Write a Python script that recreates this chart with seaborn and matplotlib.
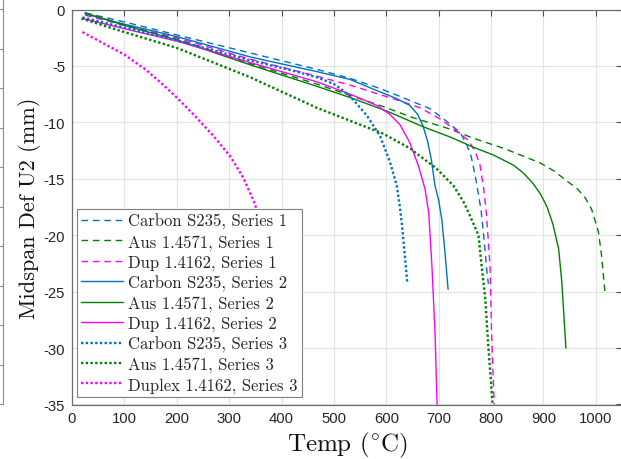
import numpy as np
import pandas as pd
import matplotlib
matplotlib.use("Agg")
import matplotlib.pyplot as plt
from matplotlib.lines import Line2D
import seaborn as sns

# ---------------- data ----------------
carbon1_T = [25, 100, 200, 340, 467, 531, 588, 626, 684, 715, 741, 752, 762, 770, 776, 781, 787, 793, 795]
carbon1_D = [-0.3, -1.1, -2.25, -3.85, -5.3, -6.1, -7.0, -7.7, -8.8, -9.9, -10.9, -11.8, -13.0, -14.8, -16.4, -17.8, -20.5, -23.7, -24.3]

aus1_T = [25, 100, 200, 340, 467, 594, 652, 722, 766, 824, 862, 894, 920, 945, 965, 980, 992, 1005, 1011, 1018]
aus1_D = [-0.3, -1.4, -2.6, -4.8, -6.6, -8.6, -9.6, -10.6, -11.4, -12.3, -13.0, -13.6, -14.3, -15.2, -15.9, -16.7, -17.7, -19.7, -21.8, -25.3]

dup1_T = [25, 100, 200, 340, 467, 531, 626, 664, 703, 735, 757, 770, 779, 786, 791, 798, 801, 806]
dup1_D = [-0.5, -1.4, -2.5, -4.4, -5.9, -6.7, -8.1, -8.7, -9.7, -10.8, -11.6, -12.6, -13.8, -15.9, -18.0, -22.7, -28.6, -35.0]

carbon2_T = [25, 100, 200, 340, 467, 531, 588, 620, 645, 660, 670, 679, 686, 693, 700, 706, 712, 718]
carbon2_D = [-0.4, -1.3, -2.4, -4.2, -5.5, -6.2, -7.3, -7.9, -8.5, -9.3, -10.3, -11.7, -13.3, -15.6, -16.9, -18.6, -21.5, -24.8]

aus2_T = [25, 100, 200, 340, 467, 531, 601, 671, 722, 766, 805, 843, 862, 880, 895, 907, 918, 929, 935, 943]
aus2_D = [-0.3, -1.4, -2.7, -4.9, -6.8, -7.8, -9.0, -10.4, -11.3, -12.2, -12.9, -13.8, -14.5, -15.4, -16.4, -17.5, -19.0, -21.2, -24.1, -30.0]

dup2_T = [20, 100, 200, 340, 467, 531, 582, 607, 626, 645, 661, 674, 681, 687, 693, 697]
dup2_D = [-0.8, -1.7, -2.8, -4.7, -6.4, -7.5, -8.5, -9.3, -10.2, -11.8, -13.8, -15.9, -18.0, -22.6, -28.6, -35.0]

carbon3_T = [20, 100, 200, 340, 420, 467, 500, 518, 537, 563, 588, 607, 620, 626, 630, 636, 640]
carbon3_D = [-0.7, -1.6, -2.75, -4.5, -5.4, -6.0, -6.6, -7.2, -8.0, -9.4, -11.2, -13.5, -15.6, -17.5, -19.1, -22.1, -24.2]

aus3_T = [18, 100, 200, 340, 467, 594, 645, 696, 728, 747, 760, 776, 782, 789, 795, 803]
aus3_D = [-0.8, -2.0, -3.4, -6.0, -8.7, -11.0, -12.3, -14.1, -15.6, -17.0, -18.3, -20.0, -22.7, -25.6, -30.0, -35.0]

duplex3_T = [20, 60, 100, 140, 170, 200, 232, 270, 302, 327, 349, 365, 380]
duplex3_D = [-2.0, -3.0, -4.0, -5.3, -6.5, -7.8, -9.3, -11.2, -13.0, -14.9, -17.2, -19.8, -23.0]

labels = ["Carbon S235, Series 1", "Aus 1.4571, Series 1", "Dup 1.4162, Series 1",
          "Carbon S235, Series 2", "Aus 1.4571, Series 2", "Dup 1.4162, Series 2",
          "Carbon S235, Series 3", "Aus 1.4571, Series 3", "Duplex 1.4162, Series 3"]

x_ticks = [0, 100, 200, 300, 400, 500, 600, 700, 800, 900, 1000]
y_ticks = [0, -5, -10, -15, -20, -25, -30, -35]

# ---------------- styling ----------------
sns.set_theme(style="white")
plt.rcParams.update({
    "font.family": ["Liberation Sans", "DejaVu Sans"],
    "mathtext.fontset": "cm",
    "axes.unicode_minus": False,
    "axes.formatter.use_mathtext": False,
})

BLUE = "#0072BD"
GREEN = "#008000"
MAG = "#FF00FF"
DASH = (0, (4.8, 3.4))
DOT = (0, (1.0, 1.0))

series = [
    (carbon1_T, carbon1_D, BLUE, DASH, 1.0),
    (aus1_T, aus1_D, GREEN, DASH, 1.0),
    (dup1_T, dup1_D, MAG, DASH, 1.0),
    (carbon2_T, carbon2_D, BLUE, "-", 1.0),
    (aus2_T, aus2_D, GREEN, "-", 1.0),
    (dup2_T, dup2_D, MAG, "-", 1.0),
    (carbon3_T, carbon3_D, BLUE, DOT, 1.7),
    (aus3_T, aus3_D, GREEN, DOT, 1.7),
    (duplex3_T, duplex3_D, MAG, DOT, 1.7),
]

fig = plt.figure(figsize=(6.21, 4.60), dpi=100)
ax = fig.add_axes([72 / 621, 54.5 / 460, 550 / 621, 395 / 460])

for (T, D, col, ls, lw), lab in zip(series, labels):
    df = pd.DataFrame({"T": T, "D": D})
    sns.lineplot(data=df, x="T", y="D", ax=ax, color=col, linestyle=ls, linewidth=lw,
                 label=lab, sort=False, estimator=None)

ax.set_xlim(0, 1050)
ax.set_ylim(-35, 0)
ax.set_xticks(x_ticks)
ax.set_yticks(y_ticks)
ax.set_xticklabels([str(v) for v in x_ticks])
ax.set_yticklabels([str(v) for v in y_ticks])
ax.tick_params(direction="in", length=4, width=0.8, color="#4d4d4d",
               labelsize=10.7, labelcolor="#262626", top=True, right=True, pad=5)
ax.grid(True, color="#e3e3e3", linewidth=0.8)
for s in ax.spines.values():
    s.set_visible(True)
    s.set_color("#6e6e6e")
    s.set_linewidth(0.9)

ax.set_xlabel(r"Temp ($^{\circ}$C)", family="cmr10", fontsize=18, color="#111111", labelpad=3)
ax.set_ylabel("Midspan Def U2 (mm)", family="cmr10", fontsize=16, color="#111111", labelpad=2)

leg = ax.legend(loc="lower left", bbox_to_anchor=(0.0085, 0.0197), borderaxespad=0,
                prop={"family": "cmr10", "size": 12}, frameon=True, fancybox=False,
                framealpha=1.0, edgecolor="#7f7f7f", handlelength=2.55, handletextpad=0.3,
                labelspacing=0.27, borderpad=0.25)
leg.get_frame().set_linewidth(0.8)

# fragment of neighbouring panel at the left edge of the image
fig.add_artist(Line2D([2.7 / 621, 2.7 / 621], [1.0, 1 - 405 / 460], color="#8a8a8a", lw=0.8))
for ypx in [10, 49.5, 89, 128.5, 168, 207.5, 247, 286.5, 326, 365.5, 405]:
    yf = 1 - ypx / 460
    fig.add_artist(Line2D([0, 2.7 / 621], [yf, yf], color="#8a8a8a", lw=0.8))

fig.savefig("out.png", dpi=100)
